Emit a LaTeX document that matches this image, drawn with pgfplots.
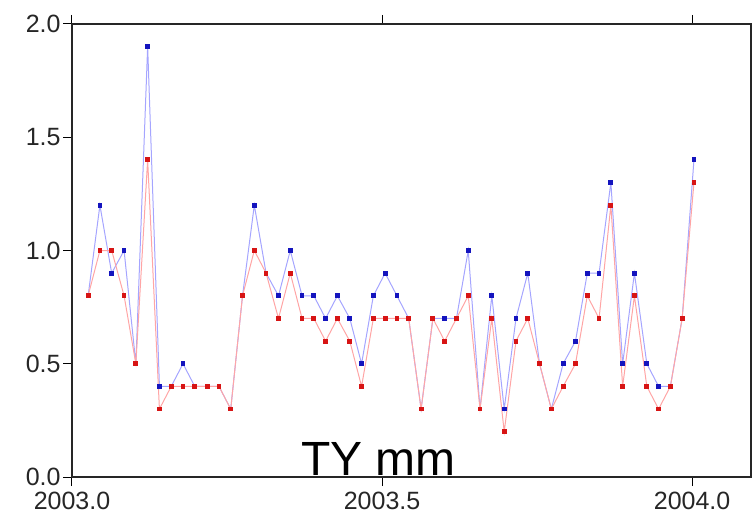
\documentclass[border=0pt]{standalone}
\usepackage{pgfplots}
\pgfplotsset{compat=1.18}
\usepackage{fontspec}
\setmainfont{Liberation Sans}
\definecolor{bline}{RGB}{165,165,255}
\definecolor{rline}{RGB}{255,165,165}
\definecolor{bmark}{RGB}{20,20,190}
\definecolor{rmark}{RGB}{215,20,20}
\begin{document}
\begin{tikzpicture}
\useasboundingbox (-72pt,-46pt) rectangle (681pt,477pt);
\begin{axis}[
  at={(0,0)}, anchor=south west,
  scale only axis, width=679pt, height=453pt,
  xmin=2003.0, xmax=2004.095, ymin=0, ymax=2.0,
  xtick={2003.0,2003.5,2004.0}, ytick={0,0.5,1.0,1.5,2.0},
  xtick pos=both, ytick pos=left,
  tick align=outside, major tick length=9pt,
  tick style={black, line width=1pt},
  axis line style={line width=1.6pt, black!85},
  /pgf/number format/assume math mode=true,
  xticklabel style={/pgf/number format/.cd, fixed, fixed zerofill, precision=1, 1000 sep={}},
  yticklabel style={/pgf/number format/.cd, fixed, fixed zerofill, precision=1},
  ticklabel style={font=\fontsize{25}{27}\selectfont, text=black!85},
  xticklabel shift=3pt, yticklabel shift=-1pt,
  clip=false,
]
\addplot[color=bline, line width=1pt, mark=square*, mark size=1.9pt, mark options={fill=bmark, draw=bmark}] coordinates {
(2003.026,0.8) (2003.045,1.2) (2003.064,0.9) (2003.084,1.0) (2003.103,0.5)
(2003.122,1.9) (2003.141,0.4) (2003.160,0.4) (2003.179,0.5) (2003.198,0.4)
(2003.218,0.4) (2003.237,0.4) (2003.256,0.3) (2003.275,0.8) (2003.294,1.2)
(2003.313,0.9) (2003.333,0.8) (2003.352,1.0) (2003.371,0.8) (2003.390,0.8)
(2003.409,0.7) (2003.428,0.8) (2003.448,0.7) (2003.467,0.5) (2003.486,0.8)
(2003.505,0.9) (2003.524,0.8) (2003.543,0.7) (2003.563,0.3) (2003.582,0.7)
(2003.601,0.7) (2003.620,0.7) (2003.639,1.0) (2003.658,0.3) (2003.677,0.8)
(2003.697,0.3) (2003.716,0.7) (2003.735,0.9) (2003.754,0.5) (2003.773,0.3)
(2003.792,0.5) (2003.812,0.6) (2003.831,0.9) (2003.850,0.9) (2003.869,1.3)
(2003.888,0.5) (2003.907,0.9) (2003.927,0.5) (2003.946,0.4) (2003.965,0.4)
(2003.984,0.7) (2004.003,1.4)
};
\addplot[color=rline, line width=1pt, mark=square*, mark size=1.9pt, mark options={fill=rmark, draw=rmark}] coordinates {
(2003.026,0.8) (2003.045,1.0) (2003.064,1.0) (2003.084,0.8) (2003.103,0.5)
(2003.122,1.4) (2003.141,0.3) (2003.160,0.4) (2003.179,0.4) (2003.198,0.4)
(2003.218,0.4) (2003.237,0.4) (2003.256,0.3) (2003.275,0.8) (2003.294,1.0)
(2003.313,0.9) (2003.333,0.7) (2003.352,0.9) (2003.371,0.7) (2003.390,0.7)
(2003.409,0.6) (2003.428,0.7) (2003.448,0.6) (2003.467,0.4) (2003.486,0.7)
(2003.505,0.7) (2003.524,0.7) (2003.543,0.7) (2003.563,0.3) (2003.582,0.7)
(2003.601,0.6) (2003.620,0.7) (2003.639,0.8) (2003.658,0.3) (2003.677,0.7)
(2003.697,0.2) (2003.716,0.6) (2003.735,0.7) (2003.754,0.5) (2003.773,0.3)
(2003.792,0.4) (2003.812,0.5) (2003.831,0.8) (2003.850,0.7) (2003.869,1.2)
(2003.888,0.4) (2003.907,0.8) (2003.927,0.4) (2003.946,0.3) (2003.965,0.4)
(2003.984,0.7) (2004.003,1.3)
};
\node[anchor=base, font=\fontsize{48}{50}\selectfont, inner sep=0pt] at (axis cs:2003.494,0.006) {TY mm};
\end{axis}
\end{tikzpicture}
\end{document}
